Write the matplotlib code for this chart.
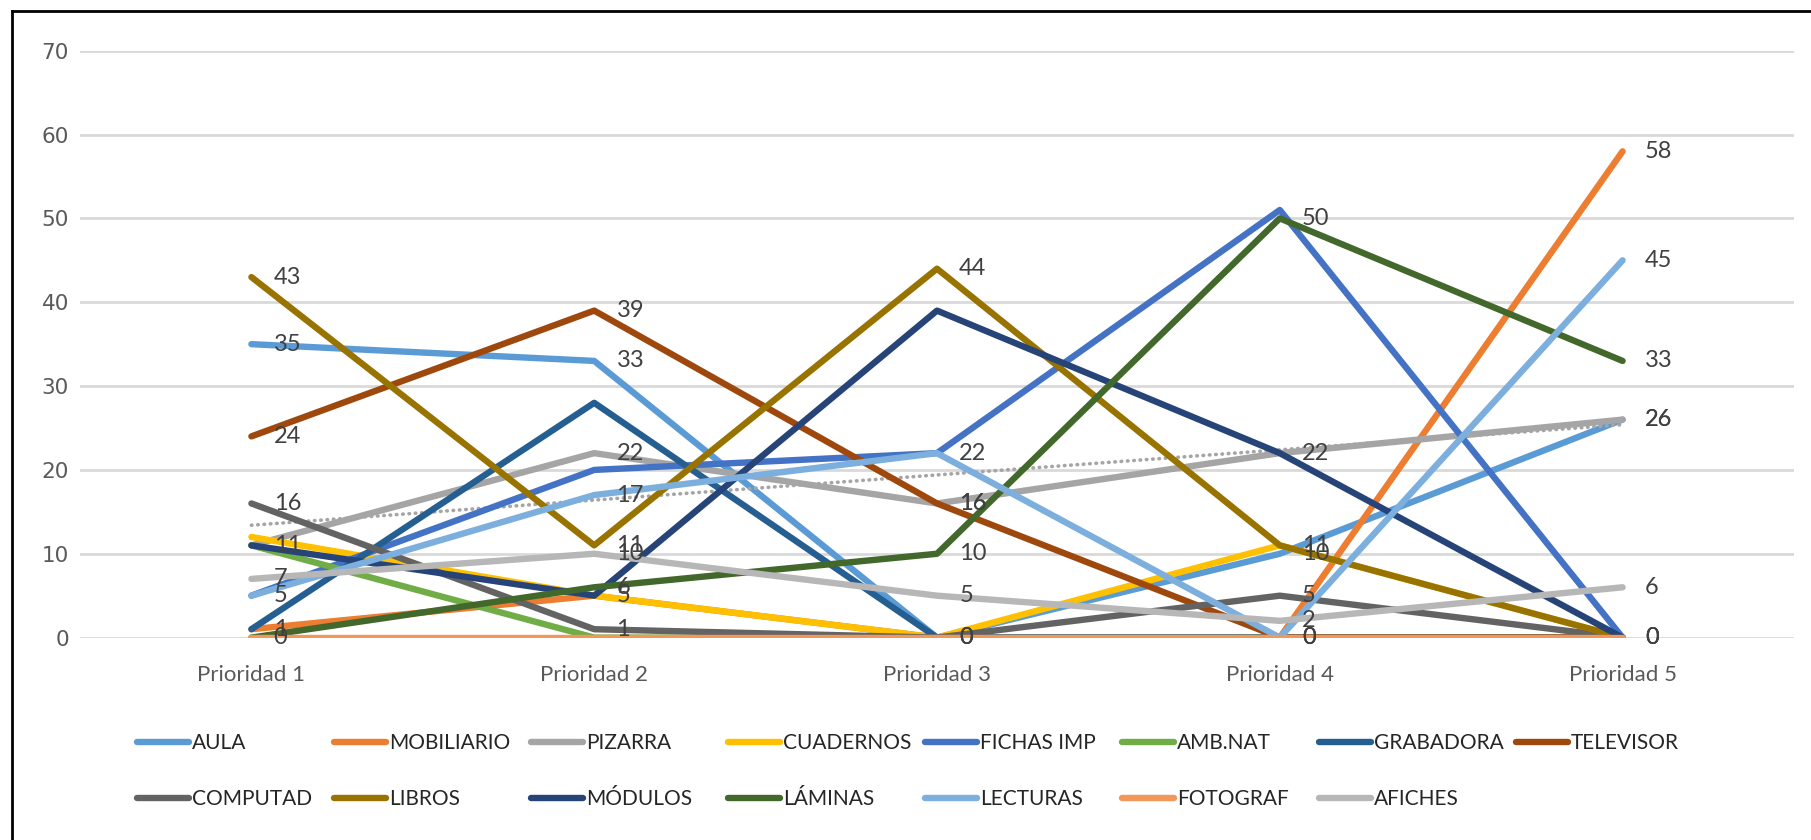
import numpy as np
import matplotlib
matplotlib.use("Agg")
import matplotlib.pyplot as plt
from matplotlib import font_manager
from matplotlib.lines import Line2D

categories = ["Prioridad 1", "Prioridad 2", "Prioridad 3", "Prioridad 4", "Prioridad 5"]

aula = [35, 33, 0, 10, 26]
mobiliario = [1, 5, 0, 0, 58]
pizarra = [11, 22, 16, 22, 26]
cuadernos = [12, 5, 0, 11, 0]
fichas_imp = [5, 20, 22, 51, 0]
amb_nat = [11, 0, 0, 0, 0]
grabadora = [1, 28, 0, 0, 0]
televisor = [24, 39, 16, 0, 0]
computad = [16, 1, 0, 5, 0]
libros = [43, 11, 44, 11, 0]
modulos = [11, 5, 39, 22, 0]
laminas = [0, 6, 10, 50, 33]
lecturas = [5, 17, 22, 0, 45]
fotograf = [0, 0, 0, 0, 0]
afiches = [7, 10, 5, 2, 6]

names = ["AULA", "MOBILIARIO", "PIZARRA", "CUADERNOS", "FICHAS IMP", "AMB.NAT",
         "GRABADORA", "TELEVISOR", "COMPUTAD", "LIBROS", "MÓDULOS", "LÁMINAS",
         "LECTURAS", "FOTOGRAF", "AFICHES"]
series = [aula, mobiliario, pizarra, cuadernos, fichas_imp, amb_nat, grabadora,
          televisor, computad, libros, modulos, laminas, lecturas, fotograf, afiches]
colors = ["#5B9BD5", "#ED7D31", "#A5A5A5", "#FFC000", "#4472C4", "#70AD47",
          "#255E91", "#9E480E", "#636363", "#997300", "#264478", "#43682B",
          "#7CAFDD", "#F1975A", "#B7B7B7"]
# series that carry data labels in the original
labeled = ["AULA", "MOBILIARIO", "PIZARRA", "TELEVISOR", "COMPUTAD", "LIBROS",
           "LÁMINAS", "LECTURAS", "AFICHES"]

installed = {f.name for f in font_manager.fontManager.ttflist}
narrow = "Liberation Sans Narrow" if "Liberation Sans Narrow" in installed else "Lato"
nsize = 17 if narrow == "Liberation Sans Narrow" else 15

W, H = 1811, 840
fig = plt.figure(figsize=(W / 100, H / 100), dpi=100)
ax = fig.add_axes([80 / W, 1 - 637.6 / H, 1714 / W, (637.6 - 50.7) / H])

x = np.arange(1, len(categories) + 1)
handles = []
for name, vals, col in zip(names, series, colors):
    h, = ax.plot(x, vals, color=col, lw=4.6, solid_capstyle="round", zorder=3)
    handles.append(h)
    if name == "PIZARRA":
        # linear trendline of PIZARRA
        k, b = np.polyfit(x, vals, 1)
        ax.plot(x, k * x + b, color="#A5A5A5", lw=2.6, ls=(0, (0.15, 1.6)),
                dash_capstyle="round", zorder=3)

for name, vals in zip(names, series):
    if name in labeled:
        for xi, v in zip(x, vals):
            ax.annotate(str(v), (xi, v), xytext=(16, 0), textcoords="offset points",
                        ha="left", va="center", fontsize=nsize + 2, family=narrow,
                        color="#404040", zorder=5)

ax.set_xlim(0.5, len(categories) + 0.5)
ax.set_ylim(0, 70)
ax.set_yticks(range(0, 71, 10))
ax.set_xticks(x)
ax.set_xticklabels(categories, family=narrow, fontsize=nsize + 1, color="#595959")
ax.tick_params(axis="y", length=0, pad=8, labelsize=15.5, labelcolor="#595959")
ax.tick_params(axis="x", length=0, pad=20)
ax.grid(axis="y", color="#D9D9D9", lw=2)
ax.set_axisbelow(True)
for s in ax.spines.values():
    s.set_visible(False)

# legend: 8 columns, fixed column width like the original
for i, (h, name) in enumerate(zip(handles, names)):
    col, row = i % 8, i // 8
    lx = (137 + col * 197) / W
    ly = 1 - (743 + row * 56) / H
    fig.legend([h], [name], loc="center left", bbox_to_anchor=(lx, ly),
               frameon=False, borderpad=0, borderaxespad=0, handlelength=2.5,
               handletextpad=0.15, prop={"family": narrow, "size": nsize},
               labelcolor="#262626")

# outer frame (left and top edges visible)
fig.add_artist(Line2D([12 / W, 12 / W], [0, 1 - 10.5 / H], color="black", lw=2,
                      transform=fig.transFigure))
fig.add_artist(Line2D([12 / W, 1], [1 - 10.5 / H, 1 - 10.5 / H], color="black", lw=2,
                      transform=fig.transFigure))

fig.savefig("out.png", dpi=100, facecolor="white")
